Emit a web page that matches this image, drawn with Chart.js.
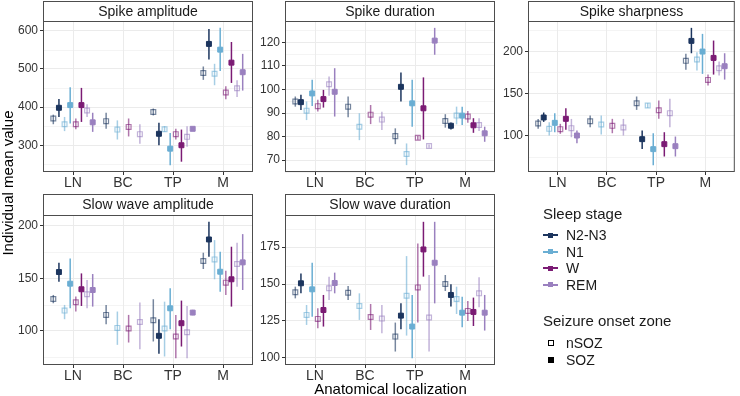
<!DOCTYPE html>
<html><head><meta charset="utf-8">
<script src="https://cdn.jsdelivr.net/npm/chart.js@4.4.1/dist/chart.umd.min.js"></script>
<style>
html,body{margin:0;padding:0;background:#fff;}
#wrap{position:relative;width:740px;height:396px;overflow:hidden;font-family:'Liberation Sans',Arial,sans-serif;color:#1a1a1a;background:#fff;}
canvas{position:absolute;left:0;top:0;}
.t{position:absolute;white-space:nowrap;line-height:1;font-weight:400;}
.ln{position:absolute;height:2px;}
.sq{position:absolute;box-sizing:border-box;}
</style></head><body>
<div id="wrap">
<canvas id="c0" width="740" height="396"></canvas>
<canvas id="c1" width="740" height="396"></canvas>
<canvas id="c2" width="740" height="396"></canvas>
<canvas id="c3" width="740" height="396"></canvas>
<canvas id="c4" width="740" height="396"></canvas>
<div id="legend"></div>
</div>
<script>
// ---- data ----
const categories = ['LN', 'BC', 'TP', 'M'];
const stages = ['N2-N3', 'N1', 'W', 'REM'];
const zones = ['nSOZ', 'SOZ'];
const panelTitles = ['Spike amplitude', 'Spike duration', 'Spike sharpness', 'Slow wave amplitude', 'Slow wave duration'];
const xTitle = 'Anatomical localization';
const yTitle = 'Individual mean value';
// order inside each category: N2-N3 nSOZ, N2-N3 SOZ, N1 nSOZ, N1 SOZ, W nSOZ, W SOZ, REM nSOZ, REM SOZ
const spikeAmpMean = [
  [370, 398, 355, 405, 355, 405, 391, 360],
  [363, null, 341, null, 348, null, 329, null],
  [387, 330, 342, 291, 329, 300, 322, 343],
  [489, 565, 487, 550, 438, 516, 449, 491]];
const spikeAmpLow = [
  [355, 374, 337, 357, 342, 361, 374, 335],
  [343, null, 315, null, 323, null, 304, null],
  [378, 300, 335, 248, 315, 257, 296, 338],
  [471, 524, 457, 494, 420, 463, 426, 443]];
const spikeAmpHigh = [
  [380, 421, 374, 452, 370, 450, 407, 385],
  [385, null, 365, null, 370, null, 355, null],
  [396, 359, 350, 332, 343, 341, 350, 347],
  [506, 604, 513, 607, 454, 570, 470, 539]];

const spikeDurMean = [
  [94.9, 94.6, 91, 98.3, 92.9, 95.9, 102.2, 99],
  [92.7, null, 84.2, null, 89.3, null, 87.2, null],
  [80.2, 101.1, 72.6, 94.1, 79.5, 92, 76, 120.7],
  [86.6, 84.6, 88.9, 88.9, 88.5, 84.8, 84.9, 81.4]];
const spikeDurLow = [
  [92.7, 91.3, 87, 93, 90.6, 92.3, 97.3, 88.5],
  [88.2, null, 78.5, null, 85.3, null, 82.8, null],
  [76.8, 94.9, 67.9, 84.2, 78.7, 78.8, 75.3, 114.7],
  [83.8, 83, 85.2, 84.9, 85.9, 81.6, 82.4, 77.8]];
const spikeDurHigh = [
  [97, 97.7, 94.9, 104.1, 95.6, 99.8, 105.5, 109],
  [97, null, 89.9, null, 93.4, null, 90.5, null],
  [83.5, 107.2, 77.1, 104.1, 80.3, 105.1, 76.7, 126.1],
  [89.5, 86, 92.7, 92.7, 90.9, 87.8, 87.8, 84.2]];

const spikeSharpMean = [
  [114.6, 121.7, 108.3, 115.4, 107.9, 120.1, 109.1, 100.4],
  [117.3, null, 113.4, null, 111.8, null, 109.8, null],
  [138.6, 96.1, 135.8, 84.3, 130.3, 90.2, 126.8, 87.8],
  [188.6, 212.2, 190.2, 199.6, 166.1, 192.1, 179.9, 182.3]];
const spikeSharpLow = [
  [108.3, 116.5, 100.4, 104.3, 102.4, 107.1, 98.4, 91.3],
  [110.2, null, 101.6, null, 103.1, null, 100.4, null],
  [130.7, 84.6, 133, 65.4, 120.1, 75.6, 110.2, 75.6],
  [178, 197.6, 177.2, 173.2, 159.4, 172.4, 171.3, 166.5]];
const spikeSharpHigh = [
  [120, 127.6, 116.1, 126.8, 114.2, 132.7, 120, 106.3],
  [124, null, 124, null, 120.1, null, 120, null],
  [146.5, 106.3, 138.6, 103.1, 141.7, 104.3, 143.7, 99.2],
  [196.9, 227.6, 198.8, 220.5, 172.4, 212.6, 187.8, 197.6]];

const slowAmpMean = [
  [130.4, 156, 119.3, 144.9, 127.2, 139.6, 134.8, 138.9],
  [115.2, null, 102.8, null, 102.2, null, 108.5, null],
  [110.1, 95.3, 102.2, 121.5, 94.6, 107.3, 98.7, 117.4],
  [166.5, 187, 168, 156.3, 145.9, 149.1, 163.6, 165.2]];
const slowAmpLow = [
  [126.3, 146.8, 111.1, 121.5, 118.4, 123.7, 121.5, 123.1],
  [106.3, null, 86.7, null, 88.9, null, 82.6, null],
  [89.9, 78.2, 75.6, 101.6, 74, 85.1, 74, 114.9],
  [158.9, 170.6, 149.1, 137.3, 134.2, 123.1, 142.1, 138.9]];
const slowAmpHigh = [
  [134.2, 164.9, 124.7, 169, 132.6, 154.7, 148.4, 154.1],
  [124.7, null, 118.4, null, 115.2, null, 126.9, null],
  [130.1, 111.1, 127.8, 140.5, 115.2, 128.8, 123.7, 120],
  [174.4, 203.8, 186.4, 175.3, 157.3, 180.1, 183.9, 192.1]];

const slowDurMean = [
  [144.4, 150.5, 129.1, 146.4, 126.4, 132.4, 147.1, 150.7],
  [144.1, null, 135.1, null, 127.7, null, 126.6, null],
  [114.4, 128.6, 142.1, 121.2, 147.7, 173.4, 127.3, 164.4],
  [150, 142.6, 139.9, 130.6, 131.8, 131.1, 143.7, 130.6]];
const slowDurLow = [
  [140.3, 143.7, 122.3, 127.9, 120, 121.2, 139.2, 143.7],
  [139.2, null, 125.7, null, 118.9, null, 116.7, null],
  [104.3, 119.4, 115.1, 99.8, 123.9, 155, 104.3, 136.9],
  [145.3, 134.7, 129.7, 120.7, 125, 121.6, 134.2, 118.5]];
const slowDurHigh = [
  [148.2, 157.2, 135.8, 164.4, 133.6, 142.6, 155, 157.7],
  [148.6, null, 143.7, null, 136.5, null, 135.8, null],
  [123.9, 136.9, 168.9, 142.6, 177.5, 192.1, 156.1, 192.1],
  [156.1, 149.8, 148.2, 141.4, 138.5, 140.8, 154.5, 142.6]];

const yTicks = [
  [300, 400, 500, 600],
  [70, 80, 90, 100, 110, 120],
  [100, 150, 200],
  [100, 150, 200],
  [100, 125, 150, 175]];

// ---- styling / layout ----
const stageColors = ['#1c355e', '#6aaed3', '#7b1b74', '#9a80bf'];
const NSOZ_ALPHA = 0.6;
const FONT = "'Liberation Sans', Arial, sans-serif";
const panelBoxes = [ // plot area [left, top, right, bottom], strip top
  {L: 43, T: 21, R: 253, B: 172, S: 1},
  {L: 285, T: 21, R: 495, B: 172, S: 1},
  {L: 528, T: 21, R: 738, B: 172, S: 1},
  {L: 43, T: 215, R: 253, B: 365, S: 194},
  {L: 285, T: 215, R: 495, B: 365, S: 194}];
const panelData = [
  [spikeAmpMean, spikeAmpLow, spikeAmpHigh],
  [spikeDurMean, spikeDurLow, spikeDurHigh],
  [spikeSharpMean, spikeSharpLow, spikeSharpHigh],
  [slowAmpMean, slowAmpLow, slowAmpHigh],
  [slowDurMean, slowDurLow, slowDurHigh]];

function rgba(hex, a) {
  const n = parseInt(hex.slice(1), 16);
  return `rgba(${(n >> 16) & 255},${(n >> 8) & 255},${n & 255},${a})`;
}

const panelPlugin = {
  id: 'panelDeco',
  beforeDraw(chart, args, o) {
    const {ctx, chartArea: a, scales: {y}} = chart;
    ctx.save();
    ctx.strokeStyle = '#f4f4f4';
    ctx.lineWidth = 1;
    o.minor.forEach(v => {
      if (v <= y.min || v >= y.max) return;
      const py = Math.round(y.getPixelForValue(v)) + 0.5;
      ctx.beginPath(); ctx.moveTo(a.left, py); ctx.lineTo(a.right, py); ctx.stroke();
    });
    ctx.restore();
  },
  beforeDatasetsDraw(chart) {
    const {ctx, scales: {x, y}} = chart;
    ctx.save();
    ctx.lineCap = 'butt';
    chart.data.datasets.forEach(ds => {
      ctx.strokeStyle = ds.borderColor;
      ctx.lineWidth = 1.5;
      ds.data.forEach(p => {
        const px = x.getPixelForValue(p.x);
        ctx.beginPath();
        ctx.moveTo(px, y.getPixelForValue(p.lo));
        ctx.lineTo(px, y.getPixelForValue(p.hi));
        ctx.stroke();
      });
    });
    ctx.restore();
  },
  afterDraw(chart, args, o) {
    const {ctx, chartArea: a} = chart;
    ctx.save();
    ctx.strokeStyle = '#4d4d4d';
    ctx.lineWidth = 1;
    ctx.strokeRect(a.left + 0.5, a.top + 0.5, a.right - a.left - 1, a.bottom - a.top - 1);
    ctx.fillStyle = '#ffffff';
    ctx.fillRect(a.left, o.stripTop, a.right - a.left, a.top - o.stripTop);
    ctx.strokeRect(a.left + 0.5, o.stripTop + 0.5, a.right - a.left - 1, a.top - o.stripTop);
    ctx.fillStyle = '#1a1a1a';
    ctx.font = `14px ${FONT}`;
    ctx.textAlign = 'center';
    ctx.textBaseline = 'middle';
    ctx.fillText(o.title, (a.left + a.right) / 2, (o.stripTop + a.top) / 2 + 1);
    if (o.axisTitles) {
      ctx.font = `15px ${FONT}`;
      ctx.fillStyle = '#000000';
      ctx.fillText(xTitle, 390.5, 390);
      ctx.translate(8.5, 183);
      ctx.rotate(-Math.PI / 2);
      ctx.fillText(yTitle, 0, 0);
    }
    ctx.restore();
  }
};

panelData.forEach((pd, pi) => {
  const [mean, low, high] = pd;
  const box = panelBoxes[pi];
  const datasets = [];
  stages.forEach((st, si) => {
    zones.forEach((zn, zi) => {
      const gi = si * 2 + zi;
      const pts = [];
      categories.forEach((c, ci) => {
        const present = mean[ci].map((v, k) => v == null ? -1 : k).filter(k => k >= 0);
        const j = present.indexOf(gi);
        if (j < 0) return;
        const k = present.length;
        const off = (j - (k - 1) / 2) * 0.9 / k;
        pts.push({x: ci + 1 + off, y: mean[ci][gi], lo: low[ci][gi], hi: high[ci][gi]});
      });
      const col = zi === 0 ? rgba(stageColors[si], NSOZ_ALPHA) : stageColors[si];
      datasets.push({
        label: st + ' ' + zn,
        data: pts,
        pointStyle: 'rect',
        pointRadius: zi === 0 ? 3.4 : 3.5,
        pointBorderWidth: zi === 0 ? 1.2 : 1,
        borderColor: col,
        backgroundColor: zi === 0 ? 'rgba(0,0,0,0)' : col,
        pointBackgroundColor: zi === 0 ? 'rgba(0,0,0,0)' : col,
        pointBorderColor: col,
        showLine: false
      });
    });
  });
  let lo = Infinity, hi = -Infinity;
  low.flat().forEach(v => { if (v != null) lo = Math.min(lo, v); });
  high.flat().forEach(v => { if (v != null) hi = Math.max(hi, v); });
  const pad = (hi - lo) * 0.05;
  const ticks = yTicks[pi];
  const step = ticks[1] - ticks[0];
  const minor = [ticks[0] - step / 2].concat(ticks.map(t => t + step / 2));
  new Chart(document.getElementById('c' + pi), {
    type: 'scatter',
    data: {datasets},
    plugins: [panelPlugin],
    options: {
      responsive: false,
      animation: false,
      devicePixelRatio: 1,
      events: [],
      layout: {padding: {left: box.L - 40, right: 740 - box.R, top: box.T, bottom: 396 - box.B - 20}},
      plugins: {
        legend: {display: false}, tooltip: {enabled: false}, title: {display: false},
        panelDeco: {minor, stripTop: box.S, title: panelTitles[pi], axisTitles: pi === 0}
      },
      scales: {
        x: {
          type: 'linear', min: 0.4, max: 4.6,
          afterBuildTicks: s => { s.ticks = [1, 2, 3, 4].map(v => ({value: v})); },
          afterFit: s => { s.height = 20; },
          ticks: {callback: v => categories[Math.round(v) - 1], color: '#333333', font: {family: FONT, size: 14}, padding: 0, maxRotation: 0, autoSkip: false},
          grid: {color: '#ebebeb', lineWidth: 1, tickColor: '#333333', tickLength: 3, drawTicks: true},
          border: {display: false}
        },
        y: {
          type: 'linear', min: lo - pad, max: hi + pad,
          afterBuildTicks: s => { s.ticks = ticks.map(v => ({value: v})); },
          afterFit: s => { s.width = 40; },
          ticks: {color: '#333333', font: {family: FONT, size: 12}, padding: 2},
          grid: {color: '#ebebeb', lineWidth: 1, tickColor: '#333333', tickLength: 3, drawTicks: true},
          border: {display: false}
        }
      }
    }
  });
});

// ---- legend (HTML) ----
const lg = document.getElementById('legend');
function addText(txt, left, cy, size) {
  const d = document.createElement('div');
  d.className = 't';
  d.textContent = txt;
  d.style.left = left + 'px';
  d.style.top = (cy - size / 2) + 'px';
  d.style.fontSize = size + 'px';
  d.style.color = '#1a1a1a';
  lg.appendChild(d);
}
addText('Sleep stage', 543, 213.5, 15);
const stageY = [235, 251.5, 268, 284.5];
stages.forEach((st, i) => {
  const l = document.createElement('div');
  l.className = 'ln';
  l.style.left = '543px'; l.style.width = '15px'; l.style.top = (stageY[i] - 1) + 'px';
  l.style.background = stageColors[i];
  lg.appendChild(l);
  const s = document.createElement('div');
  s.className = 'sq';
  s.style.left = '548px'; s.style.top = (stageY[i] - 2.5) + 'px'; s.style.width = '5px'; s.style.height = '5px';
  s.style.background = stageColors[i];
  lg.appendChild(s);
  addText(st, 566, stageY[i], 14);
});
addText('Seizure onset zone', 543, 320.5, 15);
const zoneY = [343, 359.5];
zones.forEach((zn, i) => {
  const s = document.createElement('div');
  s.className = 'sq';
  s.style.left = '547.5px'; s.style.top = (zoneY[i] - 3) + 'px'; s.style.width = '6px'; s.style.height = '6px';
  if (i === 0) { s.style.border = '1px solid #000'; } else { s.style.background = '#000'; }
  lg.appendChild(s);
  addText(zn, 566, zoneY[i], 14);
});
</script>
</body></html>
